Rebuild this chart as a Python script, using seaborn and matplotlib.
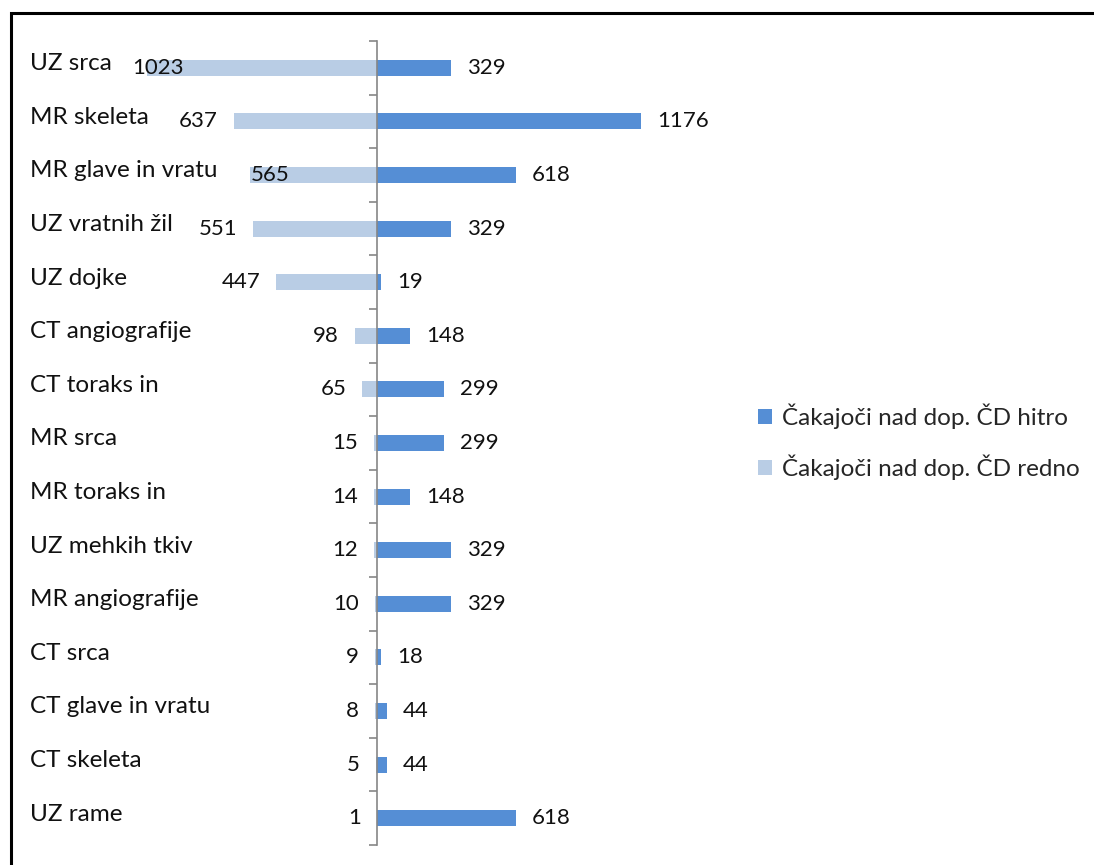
import matplotlib
matplotlib.use("Agg")
import matplotlib.pyplot as plt
from matplotlib.patches import Patch, Rectangle
import pandas as pd
import seaborn as sns

categories = [
    "UZ srca", "MR skeleta", "MR glave in vratu", "UZ vratnih žil", "UZ dojke",
    "CT angiografije", "CT toraks in", "MR srca", "MR toraks in", "UZ mehkih tkiv",
    "MR angiografije", "CT srca", "CT glave in vratu", "CT skeleta", "UZ rame",
]
hitro = [329, 1176, 618, 329, 19, 148, 299, 299, 148, 329, 329, 18, 44, 44, 618]
redno = [1023, 637, 565, 551, 447, 98, 65, 15, 14, 12, 10, 9, 8, 5, 1]
series_names = ["Čakajoči nad dop. ČD hitro", "Čakajoči nad dop. ČD redno"]

DARK = "#558ED5"
LIGHT = "#B9CDE5"
FONT = "Lato"

sns.set_style("white")
plt.rcParams["font.family"] = [FONT, "DejaVu Sans"]

W, H = 1094, 865
fig = plt.figure(figsize=(W / 100, H / 100), dpi=100)

# plot area in pixels; zero line sits at x=377, 0.2249 px per unit
px_left, px_right, px_top, px_bot = 20, 740, 41, 845
zero_px, scale = 377, 0.2249
ax = fig.add_axes([px_left / W, 1 - px_bot / H, (px_right - px_left) / W, (px_bot - px_top) / H])

df = pd.DataFrame({
    "kategorija": categories * 2,
    "vrednost": hitro + [-v for v in redno],
    "serija": [series_names[0]] * len(categories) + [series_names[1]] * len(categories),
})
sns.barplot(
    data=df, x="vrednost", y="kategorija", hue="serija", order=categories,
    hue_order=series_names, palette=[DARK, LIGHT], dodge=False, width=0.3,
    orient="h", legend=False, ax=ax, saturation=1, linewidth=0,
)

ax.set_xlim(-(zero_px - px_left) / scale, (px_right - zero_px) / scale)
ax.set_ylim(len(categories) - 0.5, -0.5)
ax.set_xlabel("")
ax.set_ylabel("")
ax.set_xticks([])

# central axis with boundary tick marks
for s in ["top", "right", "bottom"]:
    ax.spines[s].set_visible(False)
ax.spines["left"].set_position(("data", 0))
ax.spines["left"].set_color("#868686")
ax.spines["left"].set_linewidth(1.2)
ax.set_yticks([i - 0.5 for i in range(len(categories) + 1)])
ax.set_yticklabels([])
ax.tick_params(axis="y", direction="out", length=6, width=1.2, color="#868686", left=True)

# category names, left aligned inside the frame
for i, name in enumerate(categories):
    ax.annotate(name, xy=(0.0143, i), xycoords=("axes fraction", "data"),
                xytext=(0, 3.0), textcoords="offset points",
                ha="left", va="center", fontsize=17.5, color="#111111")

# value labels
label_nudge = {"UZ srca": 26.6 + 11.5, "MR glave in vratu": 28.8 + 11.5}
for i, (name, h, r) in enumerate(zip(categories, hitro, redno)):
    ax.annotate(str(h), xy=(h, i), xytext=(11.5, 0), textcoords="offset points",
                ha="left", va="center", fontsize=16, color="#111111")
    dx = -11.5 + label_nudge.get(name, 0)
    ax.annotate(str(r), xy=(-r, i), xytext=(dx, 0), textcoords="offset points",
                ha="right", va="center", fontsize=16, color="#111111")

handles = [Patch(facecolor=DARK, edgecolor="none"), Patch(facecolor=LIGHT, edgecolor="none")]
fig.legend(handles, series_names, loc="center left", bbox_to_anchor=(748 / W, 1 - 442 / H),
           frameon=False, fontsize=17.5, handlelength=0.6, handleheight=0.6,
           handletextpad=0.4, labelspacing=1.05, borderaxespad=0)

# outer chart frame
fig.add_artist(Rectangle((10.5 / W, -0.05), 1.1, 1 - 12.5 / H + 0.05,
                         transform=fig.transFigure, fill=False, edgecolor="black",
                         linewidth=2.2, clip_on=False))

fig.savefig("out.png", dpi=100, facecolor="white")
